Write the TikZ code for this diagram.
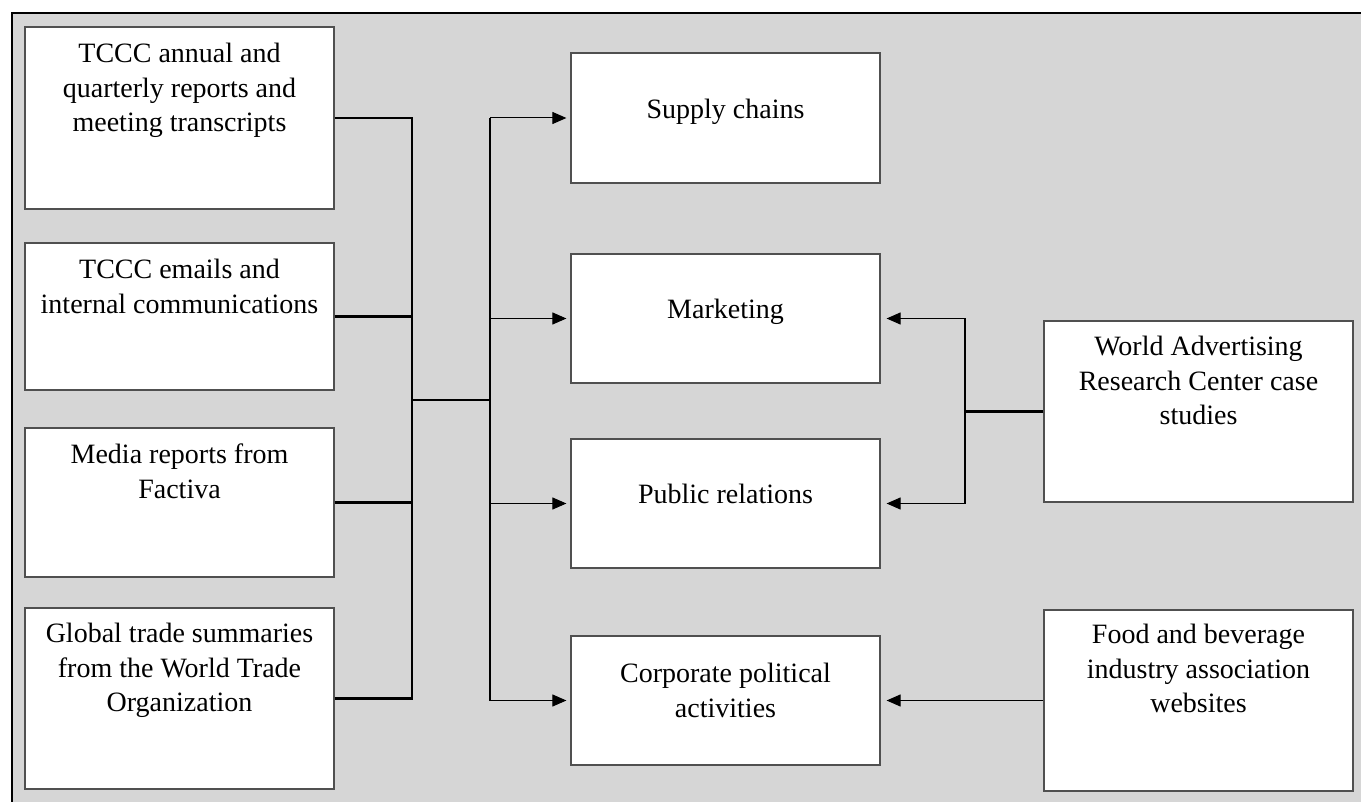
\documentclass[tikz,border=0pt]{standalone}
\usepackage{fontspec}
\setmainfont{Liberation Serif}
\usetikzlibrary{arrows.meta}
\definecolor{bggray}{HTML}{D6D6D6}
\definecolor{boxline}{HTML}{505050}
\tikzset{
  box/.style={draw=boxline, line width=1.2pt, fill=white, inner sep=0pt},
  txt/.style={anchor=north, inner sep=0pt, align=center, font=\fontsize{28}{34.5}\selectfont},
  bus/.style={line width=2.3pt, black},
  arr/.style={line width=1pt, black, -{Triangle[length=14pt,width=12pt]}, shorten >=4pt},
}
\begin{document}
\begin{tikzpicture}[x=1pt,y=-1pt]
\useasboundingbox (0,0) rectangle (1361,802);
\fill[bggray] (12,13) rectangle (1361,802);
\draw[line width=2pt] (12,802) -- (12,13) -- (1361,13);

% left boxes
\node[box, minimum width=309pt, minimum height=182pt] (b1) at (179.5,118) {};
\node[box, minimum width=309pt, minimum height=147pt] (b2) at (179.5,316.5) {};
\node[box, minimum width=309pt, minimum height=149pt] (b3) at (179.5,502.5) {};
\node[box, minimum width=309pt, minimum height=181pt] (b4) at (179.5,698.5) {};
% middle boxes
\node[box, minimum width=309pt, minimum height=130pt] (m1) at (725.5,118) {};
\node[box, minimum width=309pt, minimum height=129pt] (m2) at (725.5,318.5) {};
\node[box, minimum width=309pt, minimum height=129pt] (m3) at (725.5,503.5) {};
\node[box, minimum width=309pt, minimum height=129pt] (m4) at (725.5,700.5) {};
% right boxes
\node[box, minimum width=309pt, minimum height=181pt] (w) at (1198.5,411.5) {};
\node[box, minimum width=309pt, minimum height=181pt] (f) at (1198.5,700.5) {};

% texts
\node[txt] (t1) at (179.5,43) {TCCC annual and\\quarterly reports and\\meeting transcripts};
\node[txt] (t2) at (179.5,259) {TCCC emails and\\internal communications};
\node[txt] (t3) at (179.5,444) {Media reports from\\Factiva};
\node[txt] (t4) at (179.5,623) {Global trade summaries\\from the World Trade\\Organization};
\node[txt] (u1) at (725.5,99) {Supply chains};
\node[txt] (u2) at (725.5,299) {Marketing};
\node[txt] (u3) at (725.5,484) {Public relations};
\node[txt] (u4) at (725.5,663) {Corporate political\\activities};
\node[txt] (v1) at (1198.5,336) {World Advertising\\Research Center case\\studies};
\node[txt] (v2) at (1198.5,624) {Food and beverage\\industry association\\websites};

% left bus
\coordinate (jL) at (412,400);
\coordinate (jR) at (490,400);
\draw[bus] (b1.east) -| (jL);
\draw[bus] (b4.east) -| (jL);
\draw[bus] (b2.east) -- (b2.east -| jL);
\draw[bus] (b3.east) -- (b3.east -| jL);
\draw[bus] (jL) -- (jR);
\draw[bus] (jR |- m1.west) -- (jR |- m4.west);
\draw[arr] (jR |- m1.west) -- (m1.west);
\draw[arr] (jR |- m2.west) -- (m2.west);
\draw[arr] (jR |- m3.west) -- (m3.west);
\draw[arr] (jR |- m4.west) -- (m4.west);

% right side
\coordinate (jW) at (965,411.5);
\draw[bus] (w.west) -- (jW);
\draw[bus] (jW |- m2.east) -- (jW |- m3.east);
\draw[arr, shorten >=6pt] (jW |- m2.east) -- (m2.east);
\draw[arr, shorten >=6pt] (jW |- m3.east) -- (m3.east);
\draw[arr, shorten >=6pt] (f.west) -- (m4.east);
\end{tikzpicture}
\end{document}
